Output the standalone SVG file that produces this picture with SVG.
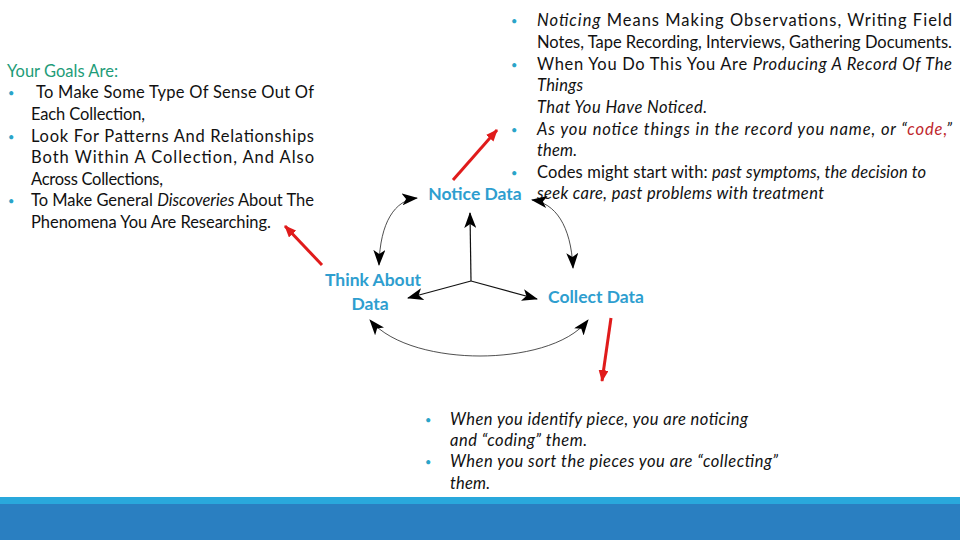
<svg xmlns="http://www.w3.org/2000/svg" width="960" height="540" viewBox="0 0 960 540">
<style>
text{font-family:Lato,"Open Sans","Liberation Sans",sans-serif;font-size:16.5px;fill:#111}
.i{font-style:italic}
.b{fill:#2AA4C8;font-size:11px}
.h{fill:#1E9C78}
.lbl{fill:#2E9ECF;font-size:17.5px;font-weight:bold}
.red{fill:#C0282D}
.thin{fill:none;stroke:#222;stroke-width:0.8;marker-start:url(#ah);marker-end:url(#ah)}
.ctr{fill:none;stroke:#111;stroke-width:1.2;marker-end:url(#ah)}
.ra{fill:none;stroke:#E01B1B;stroke-width:3;marker-end:url(#rh)}
</style>
<defs>
<marker id="ah" markerUnits="userSpaceOnUse" markerWidth="16" markerHeight="12" viewBox="0 0 16 12" refX="15" refY="6" orient="auto-start-reverse">
<path d="M0,0 L16,6 L0,12 L4,6 z" fill="#000"/>
</marker>
<marker id="rh" markerUnits="userSpaceOnUse" markerWidth="12" markerHeight="10" viewBox="0 0 12 10" refX="11" refY="5" orient="auto">
<path d="M0,0 L12,5 L0,10 z" fill="#E01B1B"/>
</marker>
</defs>
<rect width="960" height="540" fill="#fff"/>
<rect x="0" y="497" width="960" height="8" fill="#29A8DC"/>
<rect x="0" y="504" width="960" height="36" fill="#2A7FC1"/>

<g id="goals">
<text x="7" y="77" class="h" textLength="111" lengthAdjust="spacing">Your Goals Are:</text>
<text x="8" y="97" class="b">•</text>
<text x="36" y="98" textLength="278" lengthAdjust="spacing">To Make Some Type Of Sense Out Of</text>
<text x="31" y="120" textLength="114" lengthAdjust="spacing">Each Collection,</text>
<text x="8" y="141" class="b">•</text>
<text x="31" y="142" textLength="283" lengthAdjust="spacing">Look For Patterns And Relationships</text>
<text x="31" y="163" textLength="283" lengthAdjust="spacing">Both Within A Collection, And Also</text>
<text x="31" y="185" textLength="132" lengthAdjust="spacing">Across Collections,</text>
<text x="8" y="205" class="b">•</text>
<text x="31" y="206" textLength="283" lengthAdjust="spacing">To Make General <tspan class="i">Discoveries</tspan> About The</text>
<text x="31" y="228" textLength="240" lengthAdjust="spacing">Phenomena You Are Researching.</text>
</g>

<g id="noticing-notes">
<text x="511" y="25" class="b">•</text>
<text x="537" y="26" textLength="415" lengthAdjust="spacing"><tspan class="i">Noticing</tspan> Means Making Observations, Writing Field</text>
<text x="537" y="48" textLength="415" lengthAdjust="spacing">Notes, Tape Recording, Interviews, Gathering Documents.</text>
<text x="511" y="69" class="b">•</text>
<text x="537" y="70" textLength="415" lengthAdjust="spacing">When You Do This You Are <tspan class="i">Producing A Record Of The</tspan></text>
<text x="537" y="91" class="i" textLength="46" lengthAdjust="spacing">Things</text>
<text x="537" y="113" class="i" textLength="170" lengthAdjust="spacing">That You Have Noticed.</text>
<text x="511" y="134" class="b">•</text>
<text x="537" y="135" class="i" textLength="415" lengthAdjust="spacing">As you notice things in the record you name, or “<tspan class="red">code,</tspan>”</text>
<text x="537" y="156" class="i" textLength="40" lengthAdjust="spacing">them.</text>
<text x="511" y="177" class="b">•</text>
<text x="537" y="178" textLength="389" lengthAdjust="spacing">Codes might start with: <tspan class="i">past symptoms, the decision to</tspan></text>
<text x="537" y="199" class="i" textLength="287" lengthAdjust="spacing">seek care, past problems with treatment</text>
</g>

<g id="bottom-notes">
<text x="425" y="424" class="b">•</text>
<text x="450" y="425" class="i" textLength="298" lengthAdjust="spacing">When you identify piece, you are noticing</text>
<text x="450" y="446" class="i" textLength="137" lengthAdjust="spacing">and “coding” them.</text>
<text x="425" y="466" class="b">•</text>
<text x="450" y="467" class="i" textLength="328" lengthAdjust="spacing">When you sort the pieces you are “collecting”</text>
<text x="450" y="489" class="i" textLength="40" lengthAdjust="spacing">them.</text>
</g>

<g id="notice-data"><text x="475" y="200" class="lbl" text-anchor="middle">Notice Data</text></g>
<g id="think-about-data">
<text x="373" y="286" class="lbl" text-anchor="middle">Think About</text>
<text x="370" y="310" class="lbl" text-anchor="middle">Data</text>
</g>
<g id="collect-data"><text x="596" y="303" class="lbl" text-anchor="middle">Collect Data</text></g>

<g id="connectors">
<path class="ctr" d="M471,281 L470,213"/>
<path class="ctr" d="M471,281 L408,298"/>
<path class="ctr" d="M471,281 L537,299"/>
<path class="thin" d="M417,198 C395,200 380,222 379,265"/>
<path class="thin" d="M532,200 C555,203 571,225 573,268"/>
<path class="thin" d="M370,320 C392,346 440,356 480,356 C520,356 568,346 588,320"/>
<path class="ra" d="M453,180 L497,130"/>
<path class="ra" d="M322,265 L285,226"/>
<path class="ra" d="M611,318 L602,381"/>
</g>
</svg>
